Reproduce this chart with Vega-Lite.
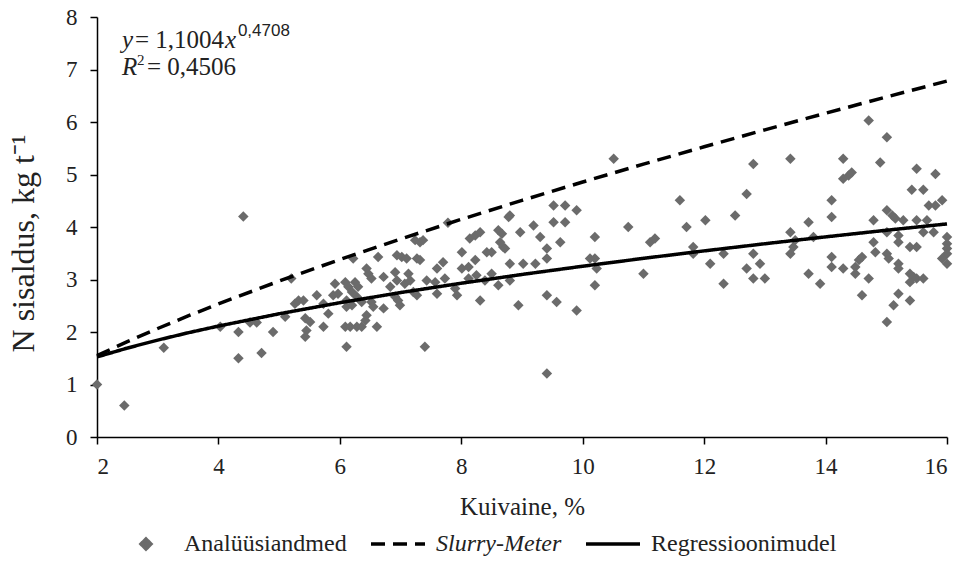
{
  "$schema": "https://vega.github.io/schema/vega-lite/v6.json",
  "width": 850,
  "height": 420,
  "autosize": {"type": "none"},
  "padding": {"left": 97, "top": 17, "right": 18, "bottom": 135},
  "background": "white",
  "config": {
    "view": {"stroke": null},
    "font": "Liberation Serif",
    "text": {"font": "Liberation Serif"},
    "axis": {
      "grid": false,
      "domainColor": "black",
      "domainWidth": 1.5,
      "tickColor": "black",
      "tickWidth": 1.5,
      "tickSize": 7,
      "labelFont": "Liberation Serif",
      "labelFontSize": 23,
      "labelColor": "#222",
      "titleFont": "Liberation Serif",
      "titleFontSize": 25,
      "titleFontWeight": "normal",
      "titleColor": "#222"
    },
    "legend": {
      "orient": "none",
      "legendX": 20,
      "legendY": 498,
      "direction": "horizontal",
      "title": null,
      "labelFont": "Liberation Serif",
      "labelFontSize": 24,
      "labelColor": "#222",
      "labelLimit": 400,
      "labelOffset": 9,
      "columnPadding": 17,
      "symbolSize": 2500
    }
  },
  "datasets": {
    "pts": [
      {"x":2.0,"y":1.0},{"x":2.45,"y":0.6},{"x":3.1,"y":1.7},{"x":4.03,"y":2.1},{"x":4.33,"y":2.0},{"x":4.33,"y":1.5},{"x":4.41,"y":4.2},{"x":4.52,"y":2.18},{"x":4.63,"y":2.18},{"x":4.71,"y":1.6},{"x":4.9,"y":2.0},{"x":5.1,"y":2.29},{"x":5.2,"y":3.02},
      {"x":5.32,"y":2.6},{"x":5.4,"y":2.6},{"x":5.26,"y":2.54},{"x":5.43,"y":2.26},{"x":5.51,"y":2.19},{"x":5.45,"y":2.03},{"x":5.43,"y":1.91},{"x":5.62,"y":2.7},{"x":5.73,"y":2.54},{"x":5.81,"y":2.35},{"x":5.73,"y":2.1},{"x":5.92,"y":2.92},{"x":5.89,"y":2.7},{"x":5.97,"y":2.73},{"x":6.09,"y":2.95},{"x":6.14,"y":2.86},{"x":6.2,"y":2.76},{"x":6.11,"y":2.6},{"x":6.25,"y":2.95},{"x":6.3,"y":2.86},{"x":6.11,"y":2.48},{"x":6.2,"y":2.51},{"x":6.28,"y":2.67},{"x":6.36,"y":2.57},{"x":6.09,"y":2.1},{"x":6.17,"y":2.1},{"x":6.28,"y":2.1},{"x":6.36,"y":2.1},{"x":6.11,"y":1.72},{"x":6.42,"y":2.22},{"x":6.44,"y":2.32},{"x":6.22,"y":3.4},{"x":6.44,"y":3.21},{"x":6.47,"y":3.11},{"x":6.52,"y":3.02},{"x":6.52,"y":2.57},{"x":6.55,"y":2.48},{"x":6.63,"y":3.43},{"x":6.61,"y":2.1},{"x":6.72,"y":3.05},{"x":6.72,"y":2.45},{"x":6.83,"y":2.86},{"x":6.91,"y":3.14},{"x":6.94,"y":3.46},{"x":7.02,"y":3.43},{"x":7.1,"y":3.4},{"x":6.94,"y":2.98},{"x":6.91,"y":2.67},{"x":6.96,"y":2.6},{"x":6.99,"y":2.51},{"x":7.07,"y":2.92},{"x":7.13,"y":3.11},{"x":7.16,"y":2.98},{"x":7.24,"y":3.75},{"x":7.32,"y":3.71},{"x":7.37,"y":3.75},{"x":7.27,"y":3.4},{"x":7.21,"y":2.76},{"x":7.27,"y":2.7},{"x":7.43,"y":2.98},{"x":7.6,"y":2.73},{"x":7.6,"y":3.21},{"x":7.7,"y":3.33},{"x":7.73,"y":3.02},{"x":7.4,"y":1.72},{"x":7.78,"y":4.08},{"x":7.32,"y":3.37},{"x":7.57,"y":2.95},
      {"x":8.01,"y":3.52},{"x":8.01,"y":3.21},{"x":8.12,"y":3.24},{"x":8.14,"y":3.78},{"x":8.23,"y":3.84},{"x":8.31,"y":3.9},{"x":8.23,"y":3.37},{"x":8.12,"y":3.02},{"x":7.9,"y":2.83},{"x":7.93,"y":2.7},{"x":8.25,"y":3.08},{"x":8.31,"y":2.6},{"x":8.42,"y":3.52},{"x":8.5,"y":3.52},{"x":8.39,"y":2.98},{"x":8.5,"y":3.11},{"x":8.61,"y":3.94},{"x":8.67,"y":3.87},{"x":8.64,"y":3.71},{"x":8.69,"y":3.62},{"x":8.72,"y":3.59},{"x":8.78,"y":4.19},{"x":8.8,"y":4.22},{"x":8.61,"y":2.89},{"x":8.8,"y":3.3},{"x":8.8,"y":2.98},{"x":8.97,"y":3.9},{"x":9.02,"y":3.3},{"x":8.94,"y":2.51},{"x":9.19,"y":4.03},{"x":9.22,"y":3.3},{"x":9.3,"y":3.81},{"x":9.41,"y":3.59},{"x":9.41,"y":3.4},{"x":9.41,"y":2.7},{"x":9.57,"y":2.57},{"x":9.52,"y":4.41},{"x":9.52,"y":4.09},{"x":9.71,"y":4.41},{"x":9.71,"y":4.09},{"x":9.63,"y":3.71},{"x":9.9,"y":4.32},{"x":9.9,"y":2.41},{"x":9.41,"y":1.21},{"x":10.2,"y":3.81},{"x":10.12,"y":3.4},{"x":10.2,"y":3.4},{"x":10.23,"y":3.21},{"x":10.2,"y":2.89},
      {"x":10.51,"y":5.3},{"x":10.75,"y":4.0},{"x":11.11,"y":3.71},{"x":11.19,"y":3.78},{"x":11.0,"y":3.11},{"x":11.6,"y":4.51},{"x":11.71,"y":4.0},{"x":11.82,"y":3.62},{"x":11.82,"y":3.49},{"x":12.02,"y":4.13},{"x":12.1,"y":3.3},{"x":12.32,"y":3.49},{"x":12.32,"y":2.92},{"x":12.51,"y":4.22},{"x":12.7,"y":4.63},{"x":12.81,"y":5.2},{"x":12.81,"y":3.49},{"x":12.7,"y":3.21},{"x":12.92,"y":3.3},{"x":12.81,"y":3.02},{"x":13.0,"y":3.02},
      {"x":13.42,"y":5.3},{"x":13.42,"y":3.9},{"x":13.5,"y":3.75},{"x":13.47,"y":3.62},{"x":13.42,"y":3.49},{"x":13.72,"y":4.09},{"x":13.8,"y":3.81},{"x":13.72,"y":3.11},{"x":13.91,"y":2.92},{"x":14.1,"y":4.51},{"x":14.1,"y":4.19},{"x":14.1,"y":3.43},{"x":14.1,"y":3.24},{"x":14.29,"y":3.21},{"x":14.29,"y":5.3},{"x":14.29,"y":4.92},{"x":14.38,"y":4.98},{"x":14.43,"y":5.04},{"x":14.49,"y":3.24},{"x":14.55,"y":3.37},{"x":14.6,"y":3.43},{"x":14.49,"y":3.11},{"x":14.6,"y":2.7},{"x":14.71,"y":3.02},{"x":14.71,"y":6.03},{"x":14.9,"y":5.23},{"x":15.01,"y":5.71},{"x":14.79,"y":4.13},{"x":14.79,"y":3.71},{"x":14.82,"y":3.52},{"x":15.01,"y":4.32},{"x":15.1,"y":4.22},{"x":15.15,"y":4.16},{"x":15.01,"y":3.9},{"x":15.01,"y":3.49},{"x":15.04,"y":3.4},{"x":15.2,"y":3.84},{"x":15.2,"y":3.71},{"x":15.2,"y":3.3},{"x":15.2,"y":3.21},{"x":15.2,"y":2.73},{"x":15.12,"y":2.51},{"x":15.01,"y":2.19},{"x":15.28,"y":4.13},{"x":15.39,"y":3.62},{"x":15.5,"y":3.62},{"x":15.39,"y":3.11},{"x":15.45,"y":3.05},{"x":15.5,"y":3.02},{"x":15.61,"y":3.02},{"x":15.39,"y":2.95},{"x":15.39,"y":2.6},{"x":15.5,"y":5.11},{"x":15.42,"y":4.71},{"x":15.61,"y":4.71},{"x":15.5,"y":4.13},{"x":15.67,"y":4.13},{"x":15.61,"y":3.9},{"x":15.7,"y":4.41},{"x":15.81,"y":4.41},{"x":15.92,"y":4.51},{"x":15.78,"y":3.9},{"x":15.81,"y":5.01},{"x":16.0,"y":3.81},{"x":16.0,"y":3.68},{"x":16.0,"y":3.59},{"x":16.0,"y":3.49},{"x":15.92,"y":3.4},{"x":16.0,"y":3.3}
    ],
    "curves": [
      {"x":2,"y":1.55,"series":"Slurry-Meter"},{"x":2.5,"y":1.816,"series":"Slurry-Meter"},{"x":3,"y":2.067,"series":"Slurry-Meter"},{"x":3.5,"y":2.306,"series":"Slurry-Meter"},{"x":4,"y":2.535,"series":"Slurry-Meter"},{"x":5,"y":2.97,"series":"Slurry-Meter"},{"x":6,"y":3.38,"series":"Slurry-Meter"},{"x":7,"y":3.771,"series":"Slurry-Meter"},{"x":8,"y":4.146,"series":"Slurry-Meter"},{"x":9,"y":4.507,"series":"Slurry-Meter"},{"x":10,"y":4.857,"series":"Slurry-Meter"},{"x":11,"y":5.197,"series":"Slurry-Meter"},{"x":12,"y":5.528,"series":"Slurry-Meter"},{"x":13,"y":5.851,"series":"Slurry-Meter"},{"x":14,"y":6.167,"series":"Slurry-Meter"},{"x":15,"y":6.477,"series":"Slurry-Meter"},{"x":16,"y":6.78,"series":"Slurry-Meter"},
      {"x":2,"y":1.525,"series":"Regressioonimudel"},{"x":2.5,"y":1.694,"series":"Regressioonimudel"},{"x":3,"y":1.846,"series":"Regressioonimudel"},{"x":3.5,"y":1.985,"series":"Regressioonimudel"},{"x":4,"y":2.113,"series":"Regressioonimudel"},{"x":5,"y":2.347,"series":"Regressioonimudel"},{"x":6,"y":2.558,"series":"Regressioonimudel"},{"x":7,"y":2.751,"series":"Regressioonimudel"},{"x":8,"y":2.929,"series":"Regressioonimudel"},{"x":9,"y":3.096,"series":"Regressioonimudel"},{"x":10,"y":3.253,"series":"Regressioonimudel"},{"x":11,"y":3.403,"series":"Regressioonimudel"},{"x":12,"y":3.545,"series":"Regressioonimudel"},{"x":13,"y":3.681,"series":"Regressioonimudel"},{"x":14,"y":3.812,"series":"Regressioonimudel"},{"x":15,"y":3.938,"series":"Regressioonimudel"},{"x":16,"y":4.059,"series":"Regressioonimudel"}
    ]
  },
  "layer": [
    {
      "data": {"name": "pts"},
      "mark": {"type": "point", "shape": "diamond", "filled": true, "size": 110, "opacity": 1},
      "encoding": {
        "x": {"field": "x", "type": "quantitative", "scale": {"domain": [2, 16], "nice": false}, "axis": {"title": "Kuivaine, %", "values": [2,4,6,8,10,12,14,16], "format": "d", "labelPadding": 11, "titlePadding": 16}},
        "y": {"field": "y", "type": "quantitative", "scale": {"domain": [0, 8], "nice": false}, "axis": {"title": "N sisaldus, kg t⁻¹", "titleFontSize": 32, "titleX": -74, "titleY": 226, "titleBaseline": "middle", "titleAlign": "center", "titleAngle": -90, "values": [0,1,2,3,4,5,6,7,8], "format": "d", "labelPadding": 13}},
        "color": {
          "datum": "Analüüsiandmed",
          "type": "nominal",
          "scale": {"domain": ["Analüüsiandmed", "Slurry-Meter", "Regressioonimudel"], "range": ["#6b6b6b", "#000000", "#000000"]},
          "legend": {
            "title": null,
            "labelLimit": 400,
            "encode": {
              "symbols": {"update": {
                "shape": {"signal": "datum.value === 'Analüüsiandmed' ? 'diamond' : 'stroke'"},
                "fill": {"signal": "datum.value === 'Analüüsiandmed' ? '#6b6b6b' : 'transparent'"},
                "stroke": {"signal": "datum.value === 'Analüüsiandmed' ? 'transparent' : 'black'"},
                "strokeWidth": {"value": 3.5},
                "strokeDash": {"signal": "datum.value === 'Slurry-Meter' ? [14, 9] : [1, 0]"},
                "size": {"signal": "datum.value === 'Analüüsiandmed' ? 100 : 2916"},
                "opacity": {"value": 1}
              }},
              "labels": {"update": {
                "fontStyle": {"signal": "datum.value === 'Slurry-Meter' ? 'italic' : 'normal'"}
              }}
            }
          }
        }
      }
    },
    {
      "data": {"name": "curves"},
      "mark": {"type": "line", "strokeWidth": 3.5},
      "encoding": {
        "x": {"field": "x", "type": "quantitative"},
        "y": {"field": "y", "type": "quantitative"},
        "color": {
          "field": "series",
          "type": "nominal",
          "legend": {
            "title": null,
            "labelLimit": 400,
            "encode": {
              "symbols": {"update": {
                "shape": {"signal": "datum.value === 'Analüüsiandmed' ? 'diamond' : 'stroke'"},
                "fill": {"signal": "datum.value === 'Analüüsiandmed' ? '#6b6b6b' : 'transparent'"},
                "stroke": {"signal": "datum.value === 'Analüüsiandmed' ? 'transparent' : 'black'"},
                "strokeWidth": {"value": 3.5},
                "strokeDash": {"signal": "datum.value === 'Slurry-Meter' ? [14, 9] : [1, 0]"},
                "size": {"signal": "datum.value === 'Analüüsiandmed' ? 100 : 2916"},
                "opacity": {"value": 1}
              }},
              "labels": {"update": {
                "fontStyle": {"signal": "datum.value === 'Slurry-Meter' ? 'italic' : 'normal'"}
              }}
            }
          }
        },
        "strokeDash": {"field": "series", "type": "nominal", "scale": {"domain": ["Analüüsiandmed", "Slurry-Meter", "Regressioonimudel"], "range": [[1, 0], [14, 8], [1, 0]]}, "legend": null}
      }
    },
    {
      "data": {"values": [{}]},
      "mark": {"type": "text", "text": "y", "fontStyle": "italic", "fontSize": 25, "align": "left", "baseline": "alphabetic", "color": "#222"},
      "encoding": {"x": {"datum": 2.41, "type": "quantitative"}, "y": {"datum": 7.41, "type": "quantitative"}}
    },
    {
      "data": {"values": [{}]},
      "mark": {"type": "text", "text": "= 1,1004", "fontSize": 25, "align": "left", "baseline": "alphabetic", "dx": 13, "color": "#222"},
      "encoding": {"x": {"datum": 2.41, "type": "quantitative"}, "y": {"datum": 7.41, "type": "quantitative"}}
    },
    {
      "data": {"values": [{}]},
      "mark": {"type": "text", "text": "x", "fontStyle": "italic", "fontSize": 25, "align": "left", "baseline": "alphabetic", "dx": 103, "color": "#222"},
      "encoding": {"x": {"datum": 2.41, "type": "quantitative"}, "y": {"datum": 7.41, "type": "quantitative"}}
    },
    {
      "data": {"values": [{}]},
      "mark": {"type": "text", "text": "0,4708", "font": "Liberation Sans", "fontSize": 17, "align": "left", "baseline": "alphabetic", "dx": 116, "dy": -12, "color": "#222"},
      "encoding": {"x": {"datum": 2.41, "type": "quantitative"}, "y": {"datum": 7.41, "type": "quantitative"}}
    },
    {
      "data": {"values": [{}]},
      "mark": {"type": "text", "text": "R", "fontStyle": "italic", "fontSize": 25, "align": "left", "baseline": "alphabetic", "color": "#222"},
      "encoding": {"x": {"datum": 2.41, "type": "quantitative"}, "y": {"datum": 6.9, "type": "quantitative"}}
    },
    {
      "data": {"values": [{}]},
      "mark": {"type": "text", "text": "2", "fontSize": 15, "align": "left", "baseline": "alphabetic", "dx": 15, "dy": -10, "color": "#222"},
      "encoding": {"x": {"datum": 2.41, "type": "quantitative"}, "y": {"datum": 6.9, "type": "quantitative"}}
    },
    {
      "data": {"values": [{}]},
      "mark": {"type": "text", "text": "= 0,4506", "fontSize": 25, "align": "left", "baseline": "alphabetic", "dx": 25, "color": "#222"},
      "encoding": {"x": {"datum": 2.41, "type": "quantitative"}, "y": {"datum": 6.9, "type": "quantitative"}}
    }
  ]
}
